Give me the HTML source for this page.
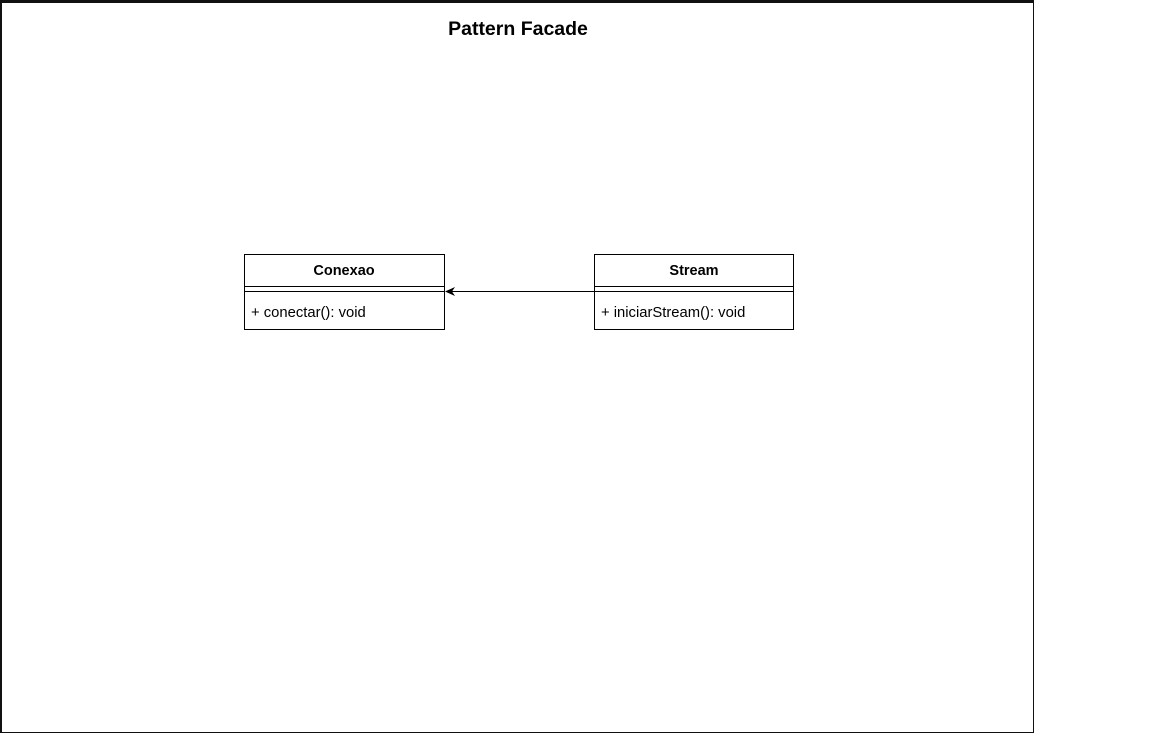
<!DOCTYPE html>
<html><head><style>
html,body{margin:0;padding:0;background:#fff;}
svg{display:block;}
text{font-family:"Liberation Sans",sans-serif;fill:#000;}
</style></head><body>
<svg width="1152" height="733" xmlns="http://www.w3.org/2000/svg">
<rect x="0" y="0" width="1152" height="733" fill="#fff"/>
<rect x="0" y="0" width="1034" height="3" fill="#111"/>
<rect x="0" y="0" width="2" height="733" fill="#111"/>
<rect x="1033" y="0" width="1" height="733" fill="#111"/>
<rect x="0" y="732" width="1034" height="1" fill="#111"/>
<text x="518" y="35" font-size="19.5" font-weight="bold" text-anchor="middle">Pattern Facade</text>
<g stroke="#000" stroke-width="1" fill="#fff">
<rect x="244.5" y="254.5" width="200" height="75"/>
<line x1="244" y1="286.5" x2="445" y2="286.5"/>
<line x1="244" y1="291.5" x2="445" y2="291.5"/>
<rect x="594.5" y="254.5" width="199" height="75"/>
<line x1="594" y1="286.5" x2="794" y2="286.5"/>
<line x1="594" y1="291.5" x2="794" y2="291.5"/>
<line x1="594" y1="291.5" x2="452" y2="291.5"/>
</g>
<path d="M445 291.5 L455 287 L452 291.5 L455 296 Z" fill="#000"/>
<text x="344" y="275" font-size="14.5" font-weight="bold" text-anchor="middle">Conexao</text>
<text x="251" y="317" font-size="14.8">+ conectar(): void</text>
<text x="694" y="275" font-size="14.5" font-weight="bold" text-anchor="middle">Stream</text>
<text x="601" y="317" font-size="14.8">+ iniciarStream(): void</text>
</svg>
</body></html>
